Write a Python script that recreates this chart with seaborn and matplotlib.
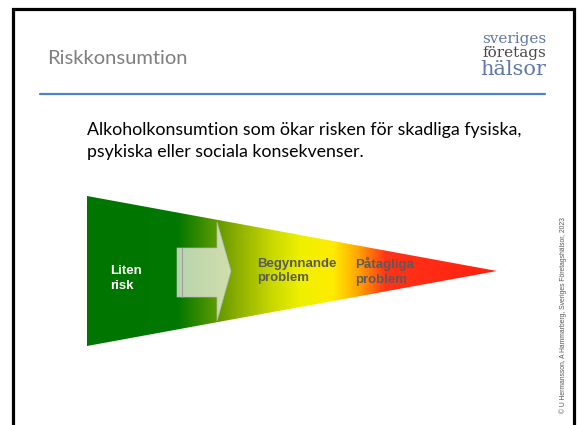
import numpy as np
import matplotlib
matplotlib.use("Agg")
import matplotlib.pyplot as plt
import seaborn as sns
from matplotlib.colors import LinearSegmentedColormap
from matplotlib.patches import Polygon

# slide texts
title = "Riskkonsumtion"
body_lines = ["Alkoholkonsumtion som ökar risken för skadliga fysiska,",
              "psykiska eller sociala konsekvenser."]
logo_words = ["sveriges", "företags", "hälsor"]
stage_labels = ["Liten\nrisk", "Begynnande\nproblem", "Påtagliga\nproblem"]
stage_colors = ["white", "#5a5a5a", "#5a5a5a"]
copyright_txt = "© U Hermansson, A Hammarberg, Sveriges Företagshälsor, 2023"

# colour ramp along the funnel (0 = wide end, 1 = tip)
grad_pos = [0.0, 0.22, 0.35, 0.45, 0.52, 0.60, 0.66, 0.73, 1.0]
grad_colors = ["#007500", "#007800", "#7fa600", "#c8d800", "#eef000",
               "#ffec00", "#ffa800", "#ff3318", "#ff2010"]

sns.set_theme(style="white")
plt.rcParams['font.family'] = ['Liberation Sans', 'DejaVu Sans']

fig = plt.figure(figsize=(5.79, 4.25), dpi=100)
ax = fig.add_axes([0, 0, 1, 1])
ax.set_xlim(0, 579)
ax.set_ylim(425, 0)
ax.axis("off")

# slide frame
ax.plot([12.5, 12.5, 573.5, 573.5], [425, 8.5, 8.5, 425], color="black", lw=2.3,
        solid_joinstyle="miter")

# title and rule
ax.text(47, 58, title, fontsize=14.5, color="#7f7f7f", family="Lato", va="center")
ax.plot([40, 545], [94, 94], color="#4f81c7", lw=1.6)

# logo
ax.text(546, 39, logo_words[0], fontsize=11, color="#5f77a8", family="DejaVu Serif",
        ha="right", va="center")
ax.text(546, 53, logo_words[1], fontsize=11, color="#4a4a4a", family="DejaVu Serif",
        ha="right", va="center")
ax.text(546, 69, logo_words[2], fontsize=15, color="#5f77a8", family="DejaVu Serif",
        ha="right", va="center")

# body text
for i, line in enumerate(body_lines):
    ax.text(87, 130 + 22 * i, line, fontsize=12.8, color="black", family="Lato",
            va="center")

# funnel
x0, x1, ytop, ybot, ytip = 87, 497, 196, 346, 271
cmap = LinearSegmentedColormap.from_list("risk", list(zip(grad_pos, grad_colors)))
ramp = np.linspace(0, 1, 512)[None, :]
im = ax.imshow(ramp, cmap=cmap, extent=[x0, x1, ybot, ytop], aspect="auto",
               interpolation="bilinear", zorder=2)
tri = Polygon([[x0, ytop], [x1, ytip], [x0, ybot]], closed=True,
              transform=ax.transData, facecolor="none", edgecolor="none")
ax.add_patch(tri)
im.set_clip_path(tri)

# translucent arrow
arrow = Polygon([[177, 248], [217, 248], [217, 222], [231, 271], [217, 321],
                 [217, 297], [177, 297]], closed=True, facecolor="#e6ecd8",
                alpha=0.8, edgecolor="#b8b8b8", lw=0.6, zorder=3)
ax.add_patch(arrow)
ax.plot([182, 182], [248, 297], color="#a0a0a0", lw=0.8, zorder=4)

# stage labels
stage_x = [110, 257, 355]
stage_y = [278.5, 271, 271.5]
for lab, xx, yy, col in zip(stage_labels, stage_x, stage_y, stage_colors):
    ax.text(xx, yy, lab, fontsize=9.5, fontweight="bold", color=col,
            va="center", ha="left", linespacing=1.3, zorder=5)

# copyright
ax.text(563, 315, copyright_txt, fontsize=4.9, color="#555555", rotation=90,
        ha="center", va="center")

fig.savefig("out.png", dpi=100)
